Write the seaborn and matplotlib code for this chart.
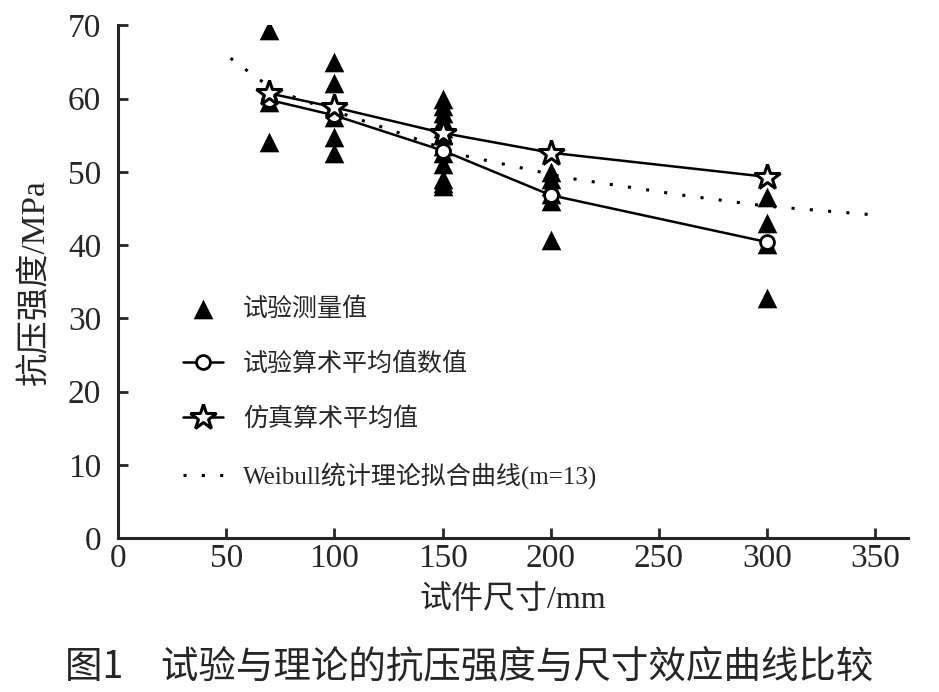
import numpy as np
import pandas as pd
import matplotlib
matplotlib.use("Agg")
import matplotlib.pyplot as plt
import seaborn as sns

# measured values (triangles)
test_size = [70, 70, 70,
             100, 100, 100, 100, 100, 100,
             150, 150, 150, 150, 150, 150, 150, 150, 150, 150, 150, 150,
             200, 200, 200, 200, 200, 200,
             300, 300, 300, 300]
test_strength = [69.3, 59.5, 54.0,
                 65.0, 62.1, 59.0, 57.5, 54.7, 52.5,
                 60.0, 59.0, 58.0, 57.0, 56.0, 55.0, 53.5, 52.5, 51.0, 49.0, 48.5, 48.0,
                 50.0, 49.0, 48.0, 47.0, 46.0, 40.7,
                 46.5, 43.0, 40.2, 32.7]

# averages
mean_size = [70, 100, 150, 200, 300]
test_mean = [59.8, 57.7, 52.9, 46.8, 40.4]
sim_mean = [60.7, 58.8, 55.3, 52.6, 49.3]

# Weibull fit (m=13)
weibull_size = [52, 62, 70, 83, 100, 130, 150, 160, 209, 261, 300, 350]
weibull_strength = [65.5, 63.3, 61.6, 60.0, 58.3, 55.3, 53.2, 52.2, 49.1, 46.8, 45.3, 44.1]

df_test = pd.DataFrame({"size": test_size, "strength": test_strength})
df_mean = pd.DataFrame({"size": mean_size, "test": test_mean, "sim": sim_mean})
df_wb = pd.DataFrame({"size": weibull_size, "strength": weibull_strength})

sns.set_style("ticks")
plt.rcParams["font.family"] = ["Liberation Serif", "Noto Sans CJK SC", "DejaVu Sans"]

fig = plt.figure(figsize=(9.39, 6.92), dpi=100)
ax = fig.add_axes([0.1257, 0.2225, 0.841, 0.741])

sns.scatterplot(data=df_test, x="size", y="strength", ax=ax, marker="^", s=200,
                color="black", edgecolor="black", linewidth=0, zorder=2,
                label="试验测量值")
sns.lineplot(data=df_wb, x="size", y="strength", ax=ax, color="black",
             linewidth=2.2, linestyle=(0, (1, 5)), zorder=3,
             label="Weibull统计理论拟合曲线(m=13)")
sns.lineplot(data=df_mean, x="size", y="test", ax=ax, color="black", linewidth=1.8,
             marker="o", markersize=10, markerfacecolor="white", markeredgecolor="black",
             markeredgewidth=2, zorder=4, label="试验算术平均值数值")
sns.lineplot(data=df_mean, x="size", y="sim", ax=ax, color="black", linewidth=1.8,
             marker="*", markersize=19, markerfacecolor="white", markeredgecolor="black",
             markeredgewidth=2.2, zorder=5, label="仿真算术平均值")

ax.set_xlim(0, 365)
ax.set_ylim(0, 70)
ax.set_xticks(range(0, 351, 50))
ax.set_yticks(range(0, 71, 10))
sns.despine(ax=ax)
for s in ["left", "bottom"]:
    ax.spines[s].set_linewidth(2.2)
ax.tick_params(axis="both", direction="in", length=7, width=2, labelsize=24)
ax.tick_params(axis="y", pad=12)
ax.tick_params(axis="x", pad=4)

ax.set_xlabel("试件尺寸/mm", fontsize=23, labelpad=8)
ax.set_ylabel("抗压强度/MPa", fontsize=24, labelpad=12)

h, l = ax.get_legend_handles_labels()
order = [0, 2, 3, 1]
ax.legend([h[i] for i in order], [l[i] for i in order], loc="upper left",
          bbox_to_anchor=(0.082, 0.47), frameon=False, fontsize=18,
          handlelength=1.6, handletextpad=0.8, labelspacing=1.26, borderpad=0,
          borderaxespad=0)

fig.text(0.5, 0.02, "图1　试验与理论的抗压强度与尺寸效应曲线比较", ha="center",
         fontsize=27, family=["Noto Sans CJK SC"])

fig.savefig("out.png", dpi=100)
